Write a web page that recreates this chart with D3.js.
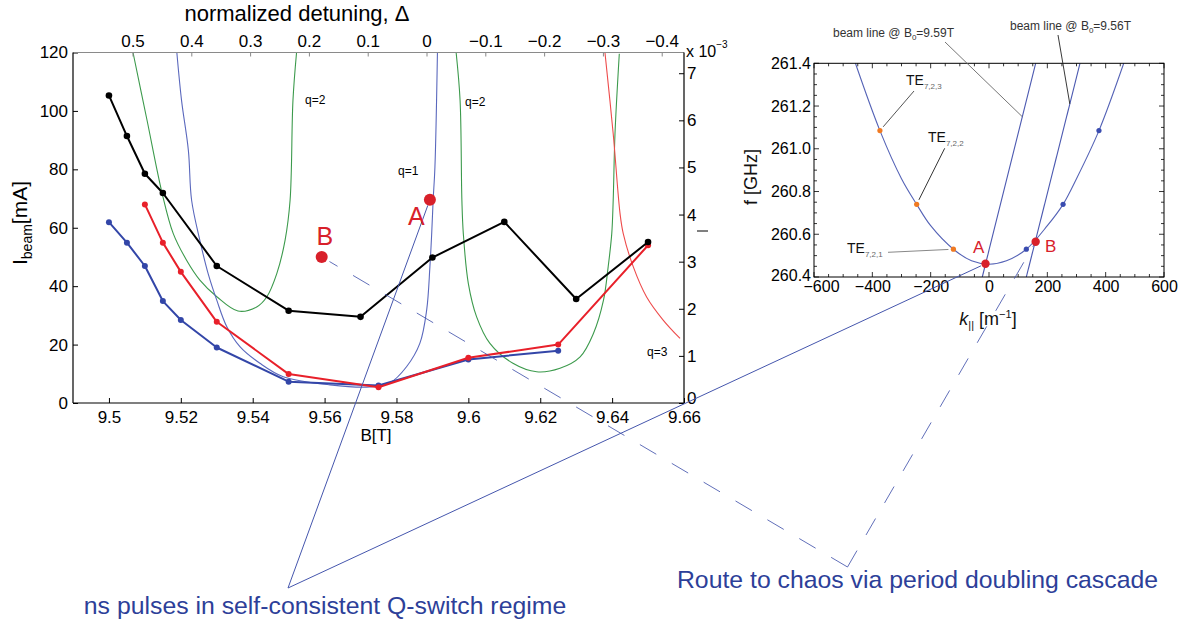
<!DOCTYPE html>
<html><head><meta charset="utf-8">
<script src="https://cdn.jsdelivr.net/npm/d3@7"></script>
<style>
html,body{margin:0;padding:0;background:#fff;}
svg{display:block;}
</style></head><body>
<svg id="fig" width="1183" height="622"></svg>
<script>
const FONT = '"Liberation Sans", Arial, Helvetica, sans-serif';

// ---- measured start current [mA] vs. magnetic field B [T] ----
const fieldBlack   = [9.50, 9.505, 9.51, 9.515, 9.53, 9.55, 9.57, 9.59, 9.61, 9.63, 9.65];
const currentBlack = [105.3, 91.4, 78.5, 71.9, 46.9, 31.6, 29.5, 49.8, 62.0, 35.6, 55.1];
const fieldRed     = [9.51, 9.515, 9.52, 9.53, 9.55, 9.575, 9.60, 9.625, 9.65];
const currentRed   = [68.0, 54.9, 44.9, 27.8, 9.9, 5.4, 15.5, 20.0, 54.0];
const fieldBlue    = [9.50, 9.505, 9.51, 9.515, 9.52, 9.53, 9.55, 9.575, 9.60, 9.625];
const currentBlue  = [61.9, 54.9, 46.9, 34.9, 28.4, 19.0, 7.3, 6.0, 14.9, 17.9];

// ---- computed start-current curves of the axial modes q=1,2,3 ----
const q1Field   = [9.5189, 9.5202, 9.5221, 9.5230, 9.5253, 9.5276, 9.5300, 9.5328, 9.5365, 9.5420, 9.5485, 9.5615, 9.5726, 9.5782, 9.5828, 9.5865, 9.5884, 9.5893, 9.5898, 9.5902, 9.5907, 9.5914];
const q1Current = [119.9, 103.6, 86.5, 69.4, 55.7, 44.3, 35.2, 26.1, 19.2, 13.6, 9.0, 6.2, 5.5, 6.9, 12.4, 20.4, 31.8, 46.6, 58.0, 69.4, 80.8, 120.1];
const q2aField   = [9.5067, 9.5106, 9.5148, 9.5179, 9.5216, 9.5253, 9.5301, 9.5359, 9.5411, 9.5439, 9.5467, 9.5490, 9.5504, 9.5512, 9.5522];
const q2aCurrent = [120.0, 96.8, 71.8, 58.0, 48.9, 42.1, 36.3, 31.5, 32.9, 36.3, 44.3, 55.7, 69.4, 103.6, 120.0];
const q2bField   = [9.5966, 9.5977, 9.5982, 9.5986, 9.6000, 9.6023, 9.6060, 9.6124, 9.6190, 9.6255, 9.6311, 9.6348, 9.6376, 9.6389, 9.6399, 9.6403, 9.6408, 9.6420];
const q2bCurrent = [120.0, 103.6, 69.4, 58.0, 40.9, 29.5, 20.4, 13.6, 10.7, 11.9, 15.8, 23.8, 35.2, 46.6, 58.0, 69.4, 92.2, 119.6];
const q3Field   = [9.6380, 9.6403, 9.6422, 9.6431, 9.6459, 9.6496, 9.6542, 9.6589];
const q3Current = [120.1, 92.2, 64.9, 58.0, 46.6, 36.3, 28.4, 22.1];

// ---- operating points A and B ----
const pointNames   = ["A", "B"];
const pointField   = [9.5893, 9.5592];
const pointCurrent = [69.6, 50.0];

// ---- axis ticks ----
const fieldTicks    = [9.5, 9.52, 9.54, 9.56, 9.58, 9.6, 9.62, 9.64, 9.66];
const currentTicks  = [0, 20, 40, 60, 80, 100, 120];
const detuningTicks = [0.5, 0.4, 0.3, 0.2, 0.1, 0, -0.1, -0.2, -0.3, -0.4];
const rightTicks    = [0, 1, 2, 3, 4, 5, 6, 7];

// ---- cavity dispersion f(k||) of the TE7,2 mode ----
const kMode = [-458, -374, -300, -248, -200, -122, -60, 0, 60, 128, 200, 254, 300, 377, 462];
const fMode = [261.4, 261.085, 260.86, 260.74, 260.64, 260.53, 260.476, 260.46, 260.476, 260.53, 260.64, 260.74, 260.86, 261.085, 261.4];
const kAxialNeg = [-122, -248, -374];
const kAxialPos = [128, 254, 377];
const fAxial    = [260.53, 260.74, 261.085];
const axialNames = ["7,2,1", "7,2,2", "7,2,3"];
const beam959K = [-23, 160], beam959F = [260.4, 261.4];
const beam956K = [128, 312], beam956F = [260.4, 261.4];
const insetPointK = [-12, 160];
const insetPointF = [260.462, 260.565];
const kTicks = [-600, -400, -200, 0, 200, 400, 600];
const fTicks = [260.4, 260.6, 260.8, 261.0, 261.2, 261.4];

const svg = d3.select("#fig").attr("font-family", FONT);
svg.append("rect").attr("width", 1183).attr("height", 622).attr("fill", "#fff");

const zip = (a, b) => a.map((v, i) => [v, b[i]]);

// ================= left panel =================
const P = {x0: 73, x1: 684, y0: 52.5, y1: 403};
const x  = d3.scaleLinear().domain([9.49, 9.66]).range([P.x0, P.x1]);
const y  = d3.scaleLinear().domain([0, 120]).range([P.y1, P.y0]);
const yR = d3.scaleLinear().domain([0, 7.44]).range([P.y1, P.y0]);
const xD = d3.scaleLinear().domain([0.6012, -0.4379]).range([P.x0, P.x1]);

const defs = svg.append("defs");
defs.append("clipPath").attr("id", "clipL").append("rect")
  .attr("x", P.x0).attr("y", P.y0).attr("width", P.x1 - P.x0).attr("height", P.y1 - P.y0);

const lineL = d3.line().x(d => x(d[0])).y(d => y(d[1]));
const smoothL = d3.line().x(d => x(d[0])).y(d => y(d[1])).curve(d3.curveCatmullRom.alpha(0.5));

const theory = svg.append("g").attr("clip-path", "url(#clipL)").attr("fill", "none").attr("stroke-width", 1.1);
[[q2aField, q2aCurrent, "#3c9a4c"], [q1Field, q1Current, "#5a68bd"],
 [q2bField, q2bCurrent, "#3c9a4c"], [q3Field, q3Current, "#ee4b4b"]].forEach(([b, c, col]) => {
  theory.append("path").datum(zip(b, c)).attr("d", smoothL).attr("stroke", col);
});

// measured series
[[fieldBlue, currentBlue, "#3346a8", 3], [fieldRed, currentRed, "#e8202a", 3], [fieldBlack, currentBlack, "#000", 3.3]]
  .forEach(([b, c, col, r]) => {
    const g = svg.append("g");
    g.append("path").datum(zip(b, c)).attr("d", lineL).attr("fill", "none")
      .attr("stroke", col).attr("stroke-width", 2).attr("stroke-linejoin", "round");
    g.selectAll("circle").data(zip(b, c)).join("circle")
      .attr("cx", d => x(d[0])).attr("cy", d => y(d[1])).attr("r", r).attr("fill", col);
  });

// axes of the left panel
function styleAxis(g, size, col) {
  g.select(".domain").remove();
  g.attr("font-family", FONT).attr("font-size", size);
  g.selectAll(".tick line").attr("stroke", col);
  g.selectAll(".tick text").attr("fill", "#000");
}
svg.append("g").attr("transform", `translate(0,${P.y1})`)
  .call(d3.axisBottom(x).tickValues(fieldTicks).tickSize(-5).tickPadding(8).tickFormat(d => String(+d.toFixed(2))))
  .call(g => styleAxis(g, 17, "#000"));
svg.append("g").attr("transform", `translate(${P.x0},0)`)
  .call(d3.axisLeft(y).tickValues(currentTicks).tickSize(-5).tickPadding(5))
  .call(g => styleAxis(g, 17, "#000"));
svg.append("g").attr("transform", `translate(${P.x1},0)`)
  .call(d3.axisRight(yR).tickValues(rightTicks).tickSize(-5).tickPadding(3))
  .call(g => styleAxis(g, 17, "#000"))
  .call(g => g.selectAll(".tick text").filter(d => d === 0).attr("dy", "0.05em"));
svg.append("g").attr("transform", `translate(0,${P.y0})`)
  .call(d3.axisTop(xD).tickValues(detuningTicks).tickSize(-4).tickPadding(6)
    .tickFormat(d => d === 0 ? "0" : d3.format(".1f")(d)))
  .call(g => styleAxis(g, 17, "#888"));

// frame
const frame = svg.append("g").attr("stroke-width", 1.2);
frame.append("line").attr("x1", P.x0).attr("x2", P.x1).attr("y1", P.y0).attr("y2", P.y0).attr("stroke", "#8a8a8a");
frame.append("line").attr("x1", P.x0).attr("x2", P.x0).attr("y1", P.y0).attr("y2", P.y1).attr("stroke", "#000");
frame.append("line").attr("x1", P.x0).attr("x2", P.x1).attr("y1", P.y1).attr("y2", P.y1).attr("stroke", "#000");
frame.append("line").attr("x1", P.x1).attr("x2", P.x1).attr("y1", P.y0).attr("y2", P.y1).attr("stroke", "#000");

// axis titles
svg.append("text").attr("x", 297).attr("y", 21).attr("text-anchor", "middle").attr("font-size", 22)
  .text("normalized detuning, \u0394");
svg.append("text").attr("x", 376).attr("y", 441).attr("text-anchor", "middle").attr("font-size", 17).text("B[T]");
svg.append("text").attr("transform", "translate(27,223) rotate(-90)").attr("text-anchor", "middle").attr("font-size", 21)
  .call(t => {
    t.append("tspan").text("I");
    t.append("tspan").attr("font-size", 14).attr("dy", 5).text("beam");
    t.append("tspan").attr("dy", -5).text("[mA]");
  });
svg.append("text").attr("x", 686).attr("y", 57).attr("font-size", 16)
  .call(t => {
    t.append("tspan").text("x 10");
    t.append("tspan").attr("font-size", 10).attr("dy", -9).text("\u22123");
  });
svg.append("line").attr("x1", 697).attr("x2", 708).attr("y1", 231).attr("y2", 231).attr("stroke", "#000");

// mode labels
const qLabels = [["q=2", 305, 104], ["q=2", 465, 106], ["q=1", 398, 175], ["q=3", 647, 356]];
svg.append("g").attr("font-size", 12).selectAll("text").data(qLabels).join("text")
  .attr("x", d => d[1]).attr("y", d => d[2]).text(d => d[0]);

// ================= inset: dispersion diagram =================
const Q = {x0: 814, x1: 1164, y0: 63.3, y1: 277};
const xi = d3.scaleLinear().domain([-600, 600]).range([Q.x0, Q.x1]);
const yi = d3.scaleLinear().domain([260.4, 261.4]).range([Q.y1, Q.y0]);
defs.append("clipPath").attr("id", "clipI").append("rect")
  .attr("x", Q.x0).attr("y", Q.y0).attr("width", Q.x1 - Q.x0).attr("height", Q.y1 - Q.y0);

const lineI = d3.line().x(d => xi(d[0])).y(d => yi(d[1]));
const inset = svg.append("g").attr("clip-path", "url(#clipI)");
inset.append("path").datum(zip(kMode, fMode)).attr("d", lineI.curve(d3.curveCatmullRom.alpha(0.5)))
  .attr("fill", "none").attr("stroke", "#5563b6").attr("stroke-width", 1.1);
const lineIs = d3.line().x(d => xi(d[0])).y(d => yi(d[1]));
inset.append("path").datum(zip(beam959K, beam959F)).attr("d", lineIs)
  .attr("stroke", "#4a58b0").attr("stroke-width", 1.1);
inset.append("path").datum(zip(beam956K, beam956F)).attr("d", lineIs)
  .attr("stroke", "#4a58b0").attr("stroke-width", 1.1);

inset.selectAll("circle.neg").data(zip(kAxialNeg, fAxial)).join("circle").attr("class", "neg")
  .attr("cx", d => xi(d[0])).attr("cy", d => yi(d[1])).attr("r", 2.6).attr("fill", "#f07a22");
inset.selectAll("circle.pos").data(zip(kAxialPos, fAxial)).join("circle").attr("class", "pos")
  .attr("cx", d => xi(d[0])).attr("cy", d => yi(d[1])).attr("r", 2.6).attr("fill", "#3a4cb0");

// inset frame and ticks
svg.append("rect").attr("x", Q.x0).attr("y", Q.y0).attr("width", Q.x1 - Q.x0).attr("height", Q.y1 - Q.y0)
  .attr("fill", "none").attr("stroke", "#000").attr("stroke-width", 1);
const tk = svg.append("g").attr("stroke", "#000").attr("stroke-width", 0.8);
d3.range(-600, 601, 50).forEach(k => {
  const len = k % 200 === 0 ? 5 : 3;
  tk.append("line").attr("x1", xi(k)).attr("x2", xi(k)).attr("y1", Q.y1).attr("y2", Q.y1 - len);
  tk.append("line").attr("x1", xi(k)).attr("x2", xi(k)).attr("y1", Q.y0).attr("y2", Q.y0 + len);
});
d3.range(0, 21).forEach(i => {
  const f = 260.4 + i * 0.05;
  const len = i % 4 === 0 ? 5 : 3;
  tk.append("line").attr("y1", yi(f)).attr("y2", yi(f)).attr("x1", Q.x0).attr("x2", Q.x0 + len);
  tk.append("line").attr("y1", yi(f)).attr("y2", yi(f)).attr("x1", Q.x1).attr("x2", Q.x1 - len);
});
svg.append("g").attr("transform", `translate(0,${Q.y1})`)
  .call(d3.axisBottom(xi).tickValues(kTicks).tickSize(0).tickPadding(4).tickFormat(d3.format("d")))
  .call(g => styleAxis(g, 16, "#000"))
  .call(g => g.selectAll(".tick text").filter(d => d === -600).attr("dx", 7));
svg.append("g").attr("transform", `translate(${Q.x0},0)`)
  .call(d3.axisLeft(yi).tickValues(fTicks).tickSize(0).tickPadding(3).tickFormat(d3.format(".1f")))
  .call(g => styleAxis(g, 16, "#000"))
  .call(g => g.selectAll(".tick text").filter(d => d === 260.4).attr("dy", "0.2em"));

svg.append("text").attr("transform", "translate(757,177) rotate(-90)").attr("text-anchor", "middle")
  .attr("font-size", 18).attr("fill", "#111").text("f [GHz]");
svg.append("text").attr("x", 988).attr("y", 325).attr("text-anchor", "middle").attr("font-size", 18).attr("fill", "#111")
  .call(t => {
    t.append("tspan").attr("font-style", "italic").text("k");
    t.append("tspan").attr("font-size", 11).attr("dy", 4).text("||");
    t.append("tspan").attr("dy", -4).text(" [m");
    t.append("tspan").attr("font-size", 11).attr("dy", -7).text("\u22121");
    t.append("tspan").attr("dy", 7).text("]");
  });

// helper: end point pulled back from a mark by r pixels
function pullBack(from, to, r) {
  const dx = to[0] - from[0], dy = to[1] - from[1], L = Math.hypot(dx, dy);
  return [to[0] - dx / L * r, to[1] - dy / L * r];
}
const onBeam = (K, F, f) => [xi(K[0] + (f - F[0]) / (F[1] - F[0]) * (K[1] - K[0])), yi(f)];

// beam line and mode labels of the inset
const lead = svg.append("g").attr("fill", "none");
const beamTarget959 = onBeam(beam959K, beam959F, 261.15);
const beamTarget956 = onBeam(beam956K, beam956F, 261.21);
lead.append("line").attr("x1", 945).attr("y1", 42).attr("x2", beamTarget959[0]).attr("y2", beamTarget959[1])
  .attr("stroke", "#666").attr("stroke-width", 0.9);
lead.append("line").attr("x1", 1058).attr("y1", 35).attr("x2", beamTarget956[0]).attr("y2", beamTarget956[1])
  .attr("stroke", "#222").attr("stroke-width", 0.9);

const beamText = svg.append("g").attr("font-size", 12).attr("fill", "#333");
[["9.59T", 833, 37], ["9.56T", 1010, 30]].forEach(([v, tx, ty]) => {
  beamText.append("text").attr("x", tx).attr("y", ty).call(t => {
    t.append("tspan").text("beam line @ B");
    t.append("tspan").attr("font-size", 8).attr("dy", 3).text("0");
    t.append("tspan").attr("dy", -3).text("=" + v);
  });
});

const teLabels = [[847, 253, 888, 252.3, "#888"], [928, 142, 944.7, 148.3, "#333"], [906, 85, 914, 91, "#555"]];
axialNames.forEach((name, i) => {
  const [tx, ty, lx, ly, lc] = teLabels[i];
  const dot = [xi(kAxialNeg[i]), yi(fAxial[i])];
  const end = pullBack([lx, ly], dot, 5);
  lead.append("line").attr("x1", lx).attr("y1", ly).attr("x2", end[0]).attr("y2", end[1])
    .attr("stroke", lc).attr("stroke-width", 1);
  svg.append("text").attr("x", tx).attr("y", ty).attr("font-size", 14).attr("fill", "#111").call(t => {
    t.append("tspan").text("TE");
    t.append("tspan").attr("font-size", 8).attr("dy", 4).attr("fill", "#666").text(name);
  });
});

// ================= annotations linking both panels =================
const ptsL = pointField.map((b, i) => [x(b), y(pointCurrent[i])]);
const ptsI = insetPointK.map((k, i) => [xi(k), yi(insetPointF[i])]);
const ann = svg.append("g").attr("fill", "none").attr("stroke", "#4556ad").attr("stroke-width", 1);
const apexQ = [288, 588];
[pullBack(apexQ, ptsL[0], 6), pullBack(apexQ, ptsI[0], 5)].forEach(e =>
  ann.append("line").attr("x1", apexQ[0]).attr("y1", apexQ[1]).attr("x2", e[0]).attr("y2", e[1]));
const apexR = [847.5, 567];
[pullBack(apexR, ptsL[1], 9), pullBack(apexR, ptsI[1], 4)].forEach(e =>
  ann.append("line").attr("x1", apexR[0]).attr("y1", apexR[1]).attr("x2", e[0]).attr("y2", e[1])
    .attr("stroke-dasharray", "19,18").attr("opacity", 0.85));

// operating points
svg.append("g").selectAll("circle").data(ptsL).join("circle")
  .attr("cx", d => d[0]).attr("cy", d => d[1]).attr("r", 6).attr("fill", "#d8202a");
svg.append("g").selectAll("circle").data(ptsI).join("circle")
  .attr("cx", d => d[0]).attr("cy", d => d[1]).attr("r", 4.2).attr("fill", "#d8202a");
const labL = [[408, 225], [316.5, 245]];
const labI = [[973, 253], [1045, 252]];
pointNames.forEach((n, i) => {
  svg.append("text").attr("x", labL[i][0]).attr("y", labL[i][1]).attr("font-size", 25).attr("fill", "#d8202a").text(n);
  svg.append("text").attr("x", labI[i][0]).attr("y", labI[i][1]).attr("font-size", 17).attr("fill", "#d8202a").text(n);
});

svg.append("text").attr("x", 325).attr("y", 614).attr("text-anchor", "middle").attr("font-size", 24.8).attr("fill", "#2d3f99")
  .text("ns pulses in self-consistent Q-switch regime");
svg.append("text").attr("x", 917.5).attr("y", 588).attr("text-anchor", "middle").attr("font-size", 24.8).attr("fill", "#2d3f99")
  .text("Route to chaos via period doubling cascade");
</script></body></html>
